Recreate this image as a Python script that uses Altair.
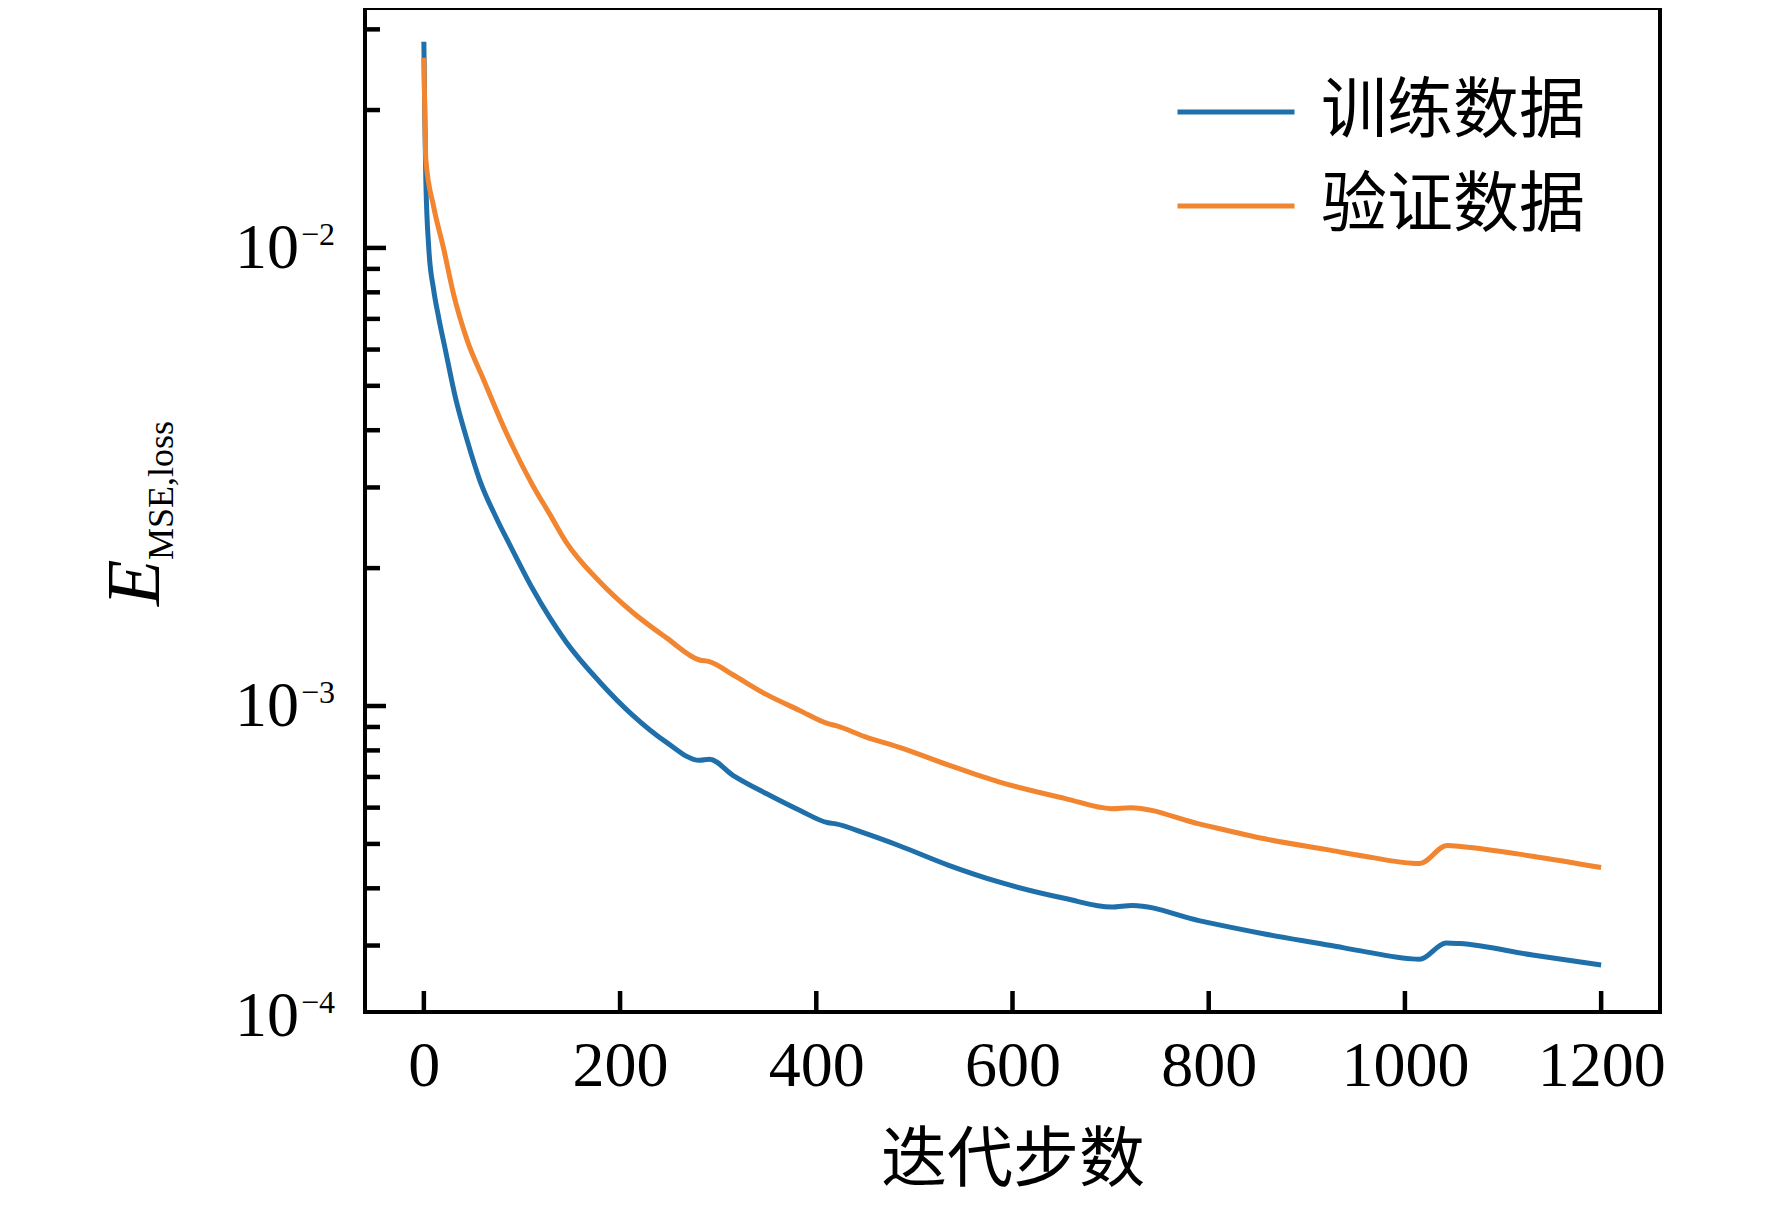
import altair as alt
import pandas as pd

# ---- data ----
train_x = [0, 1, 2, 5, 10, 15, 22, 32, 44, 57, 74, 88, 111, 145, 179, 213, 247, 281, 291,
           315, 349, 383, 412, 420, 450, 484, 535, 586, 654, 701, 722, 790, 857, 925, 959,
           1015, 1042, 1056, 1130, 1200]
train_y = [0.0282, 0.0190, 0.0141, 0.0100, 0.0081, 0.00706, 0.00598, 0.00473, 0.00381,
           0.00311, 0.00257, 0.00224, 0.00180, 0.00138, 0.00113, 0.000954, 0.000834,
           0.000761, 0.000765, 0.000706, 0.000644, 0.000592, 0.000556, 0.000553, 0.000527,
           0.000496, 0.000449, 0.000413, 0.000380, 0.000364, 0.000367, 0.000340, 0.000318,
           0.000300, 0.000291, 0.000280, 0.000304, 0.000303, 0.000286, 0.000272]

val_x = [0, 1, 2, 10, 20, 30, 44, 61, 84, 111, 128, 145, 179, 213, 247, 281, 291, 315, 349,
         383, 412, 420, 450, 484, 535, 586, 654, 701, 720, 790, 857, 925, 959, 1015, 1043,
         1059, 1130, 1200]
val_y = [0.0260, 0.0195, 0.0156, 0.0123, 0.0100, 0.00797, 0.00630, 0.00515, 0.00395,
         0.00303, 0.00263, 0.00228, 0.00187, 0.00160, 0.00141, 0.00126, 0.00125, 0.00117,
         0.00106, 0.000978, 0.000915, 0.000906, 0.000856, 0.000813, 0.000743, 0.000683,
         0.000628, 0.000597, 0.000600, 0.000553, 0.000513, 0.000484, 0.000470, 0.000453,
         0.000496, 0.000493, 0.000470, 0.000444]

series_names = ["训练数据", "验证数据"]
series_colors = ["#1f70aa", "#f28530"]

x_ticks = [0, 200, 400, 600, 800, 1000, 1200]
y_major = [1e-2, 1e-3]
y_minor = [2e-2, 3e-2, 2e-3, 3e-3, 4e-3, 5e-3, 6e-3, 7e-3, 8e-3, 9e-3,
           3e-4, 4e-4, 5e-4, 6e-4, 7e-4, 8e-4, 9e-4]
y_label_pos = [1e-2, 1e-3, 2.1e-4]
y_label_base = ["10", "10", "10"]
y_label_exp = ["−2", "−3", "−4"]

x_title = "迭代步数"

# ---- geometry / scales ----
W, H = 1295, 1004
x_dom = [-60, 1260]
y_dom = [2.148e-4, 0.0334]
SERIF = "Liberation Serif"
CJK = "Noto Sans CJK SC"

xs = alt.Scale(domain=x_dom, nice=False, zero=False)
ys = alt.Scale(type="log", domain=y_dom, nice=False, zero=False)

df = pd.DataFrame({
    "step": train_x + val_x,
    "loss": train_y + val_y,
    "series": [series_names[0]] * len(train_x) + [series_names[1]] * len(val_x),
})

lines = alt.Chart(df).mark_line(strokeWidth=5, interpolate="monotone").encode(
    x=alt.X("step:Q", scale=xs,
            axis=alt.Axis(values=x_ticks, format="d", title=x_title, grid=False,
                          domain=False, ticks=False, tickSize=0, labelPadding=22,
                          labelFont=SERIF, labelFontSize=64, labelColor="black",
                          labelFlush=False, labelOverlap=False,
                          titleFont=CJK, titleFontSize=66, titleFontWeight="normal",
                          titleColor="black", titleY=168, titleBaseline="alphabetic")),
    y=alt.Y("loss:Q", scale=ys, axis=None),
    color=alt.Color("series:N",
                    scale=alt.Scale(domain=series_names, range=series_colors),
                    sort=series_names,
                    legend=alt.Legend(orient="none", legendX=810, legendY=58, title=None,
                                      symbolType="stroke", symbolSize=13689,
                                      symbolStrokeWidth=5, labelFont=CJK,
                                      labelFontSize=66, labelOffset=24, labelLimit=500,
                                      clipHeight=92, rowPadding=2, padding=0,
                                      labelColor="black")),
    order="step:Q",
)

ymaj = alt.Chart(pd.DataFrame({"v": y_major})).mark_rule(color="black", strokeWidth=4.5).encode(
    y=alt.Y("v:Q", scale=ys), x=alt.value(0), x2=alt.value(21))
ymin = alt.Chart(pd.DataFrame({"v": y_minor})).mark_rule(color="black", strokeWidth=4.5).encode(
    y=alt.Y("v:Q", scale=ys), x=alt.value(0), x2=alt.value(15))
xtk = alt.Chart(pd.DataFrame({"v": x_ticks})).mark_rule(color="black", strokeWidth=4.5).encode(
    x=alt.X("v:Q", scale=xs), y=alt.value(H), y2=alt.value(H - 21))

lab_df = pd.DataFrame({"v": y_label_pos, "b": y_label_base, "e": y_label_exp})
ylab_base = alt.Chart(lab_df).mark_text(font=SERIF, fontSize=64, align="right",
                                        baseline="alphabetic", dy=20, color="black").encode(
    y=alt.Y("v:Q", scale=ys), x=alt.value(-66), text="b:N")
ylab_exp = alt.Chart(lab_df).mark_text(font=SERIF, fontSize=32, align="left",
                                       baseline="alphabetic", dy=-3, color="black").encode(
    y=alt.Y("v:Q", scale=ys), x=alt.value(-64), text="e:N")

ytitle_main = alt.Chart(pd.DataFrame({"t": ["E"]})).mark_text(
    font=SERIF, fontSize=76, fontStyle="italic", angle=270, align="left",
    baseline="alphabetic", color="black").encode(
    x=alt.value(-206), y=alt.value(598), text="t:N")
ytitle_sub = alt.Chart(pd.DataFrame({"t": ["MSE,loss"]})).mark_text(
    font=SERIF, fontSize=36, angle=270, align="left",
    baseline="alphabetic", color="black").encode(
    x=alt.value(-192), y=alt.value(552), text="t:N")

chart = alt.layer(lines, ymaj, ymin, xtk, ylab_base, ylab_exp, ytitle_main, ytitle_sub).properties(
    width=W, height=H,
    autosize=alt.AutoSizeParams(type="none"),
    padding={"left": 357, "top": 0, "right": 100, "bottom": 187},
).configure(
    background="white",
    view=alt.ViewConfig(stroke="black", strokeWidth=4),
)

chart.save("out.html", embed_options={"renderer": "svg", "actions": False})
